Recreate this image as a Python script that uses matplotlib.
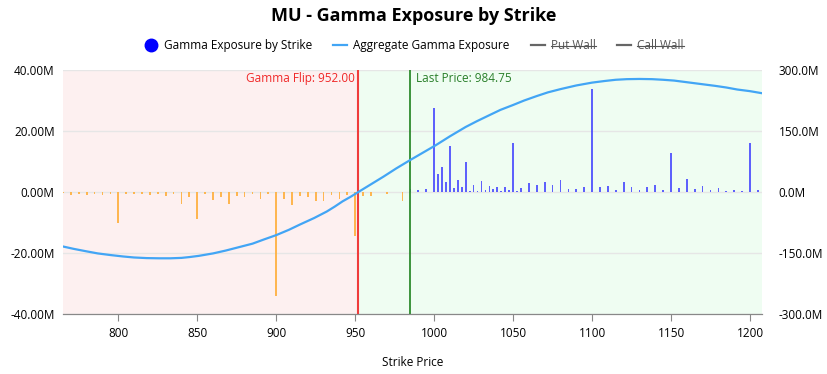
import matplotlib
matplotlib.use("Agg")
import matplotlib.pyplot as plt
from matplotlib.lines import Line2D

plt.rcParams['font.family'] = ['Open Sans', 'DejaVu Sans']

# gamma exposure per strike, in millions
neg_strikes = [765, 770, 775, 780, 785, 790, 795, 800, 805, 810, 815, 820, 825, 830,
               835, 840, 845, 850, 855, 860, 865, 870, 875, 880, 885, 890, 895, 900,
               905, 910, 915, 920, 925, 930, 935, 940, 945, 950, 955, 960, 970, 980]
neg_gex = [-0.4, -0.9, -0.6, -1.0, -0.6, -1.0, -0.8, -10.0, -0.5, -0.8, -0.5, -1.0, -0.8, -1.3,
           -0.5, -3.9, -1.5, -9.0, -0.8, -2.5, -1.5, -3.9, -1.3, -1.7, -0.7, -2.2, -0.8, -34.0,
           -2.2, -4.2, -1.4, -1.5, -2.8, -2.8, -1.0, -2.2, -1.0, -14.3, -1.3, -1.3, -0.7, -3.0]

pos_strikes = [985, 990, 995, 1000, 1002.5, 1005, 1007.5, 1010, 1012.5, 1015, 1017.5, 1020,
               1022.5, 1025, 1027.5, 1030, 1032.5, 1035, 1037.5, 1040, 1042.5, 1045, 1047.5,
               1050, 1052.5, 1055, 1060, 1065, 1070, 1075, 1080, 1085, 1090, 1095, 1100, 1105,
               1110, 1115, 1120, 1125, 1130, 1135, 1140, 1145, 1150, 1155, 1160, 1165, 1170,
               1175, 1180, 1185, 1190, 1195, 1200, 1205]
pos_gex = [1.1, 0.7, 1.0, 27.4, 5.9, 8.1, 3.3, 15.1, 1.4, 4.1, 1.6, 9.8,
           0.4, 2.2, 0.4, 3.6, 0.7, 2.0, 0.9, 1.7, 0.4, 1.5, 0.7,
           16.2, 0.3, 1.4, 2.8, 2.3, 3.3, 2.3, 3.9, 1.1, 1.1, 1.6, 33.7, 1.6,
           2.0, 0.7, 3.3, 1.6, 0.7, 1.6, 2.3, 0.7, 12.8, 1.2, 4.4, 0.9, 2.0,
           0.7, 1.2, 0.3, 0.7, 0.3, 16.2, 0.7]

# aggregate gamma exposure curve, in millions (right axis)
agg_strikes = [765, 772, 780, 787, 795, 803, 810, 818, 826, 833, 840, 845, 851, 860, 868,
               876, 885, 892, 900, 908, 915, 924, 932, 937, 942, 947, 952, 960, 968, 976,
               985, 993, 1001, 1010, 1020, 1027, 1035, 1042, 1050, 1057, 1065, 1072, 1080,
               1090, 1100, 1108, 1115, 1122, 1130, 1138, 1145, 1152, 1158, 1164, 1170,
               1178, 1185, 1192, 1200, 1207.5]
agg_gex = [-134, -140, -146, -151, -155, -158.5, -161, -162.5, -163, -163, -162, -160, -157,
           -151, -144, -136, -127, -117, -106, -93, -80, -64, -48, -36, -23, -12, 0, 19, 38,
           58, 79, 97, 115, 137, 160, 174, 189, 202, 214, 225, 236, 245, 253,
           262, 269, 273, 276, 277.5, 278, 277.5, 276, 274, 271, 268, 265,
           261, 257, 252, 248, 243]

gamma_flip = 952.00
last_price = 984.75
x_min, x_max = 765, 1207.5

fig = plt.figure(figsize=(8.27, 3.74), dpi=100)
ax = fig.add_axes([0.0762, 0.1604, 0.845, 0.6524])
ax2 = ax.twinx()

ax.axvspan(x_min, gamma_flip, color='#fdf0f0', zorder=0, lw=0)
ax.axvspan(gamma_flip, x_max, color='#effdf2', zorder=0, lw=0)

ax.bar(neg_strikes, neg_gex, width=1.1, color='#ffb040', alpha=0.9, zorder=3)
ax.bar(pos_strikes, pos_gex, width=1.1, color='#3a3aff', alpha=0.8, zorder=3)

ax.axvline(gamma_flip, color='#f03c3c', lw=1.5, zorder=4)
ax.axvline(last_price, color='#2e8b2e', lw=1.3, zorder=4)
ax.text(gamma_flip - 2, 39.5, 'Gamma Flip: %.2f' % gamma_flip, color='#f02828',
        ha='right', va='top', fontsize=8.5, zorder=5)
ax.text(last_price + 4, 39.5, 'Last Price: %.2f' % last_price, color='#2a7f2a',
        ha='left', va='top', fontsize=8.5, zorder=5)

ax2.plot(agg_strikes, agg_gex, color='#42a5f5', lw=1.6, zorder=5)

ax.set_xlim(x_min, x_max)
ax.set_ylim(-40, 40)
ax2.set_ylim(-300, 300)
ax.set_yticks([-40, -20, 0, 20, 40])
ax.set_yticklabels(['%.2fM' % v for v in [-40, -20, 0, 20, 40]])
ax2.set_yticks([-300, -150, 0, 150, 300])
ax2.set_yticklabels(['%.1fM' % v for v in [-300, -150, 0, 150, 300]])
ax.set_xticks([800, 850, 900, 950, 1000, 1050, 1100, 1150, 1200])
ax.grid(axis='y', color='#e6e6e6', lw=1, zorder=1)
ax.set_axisbelow(True)

for a in (ax, ax2):
    for s in ('top', 'left', 'right'):
        a.spines[s].set_visible(False)
    a.spines['bottom'].set_color('#888888')
ax.tick_params(axis='x', length=5, color='#888888', labelsize=8.5, pad=4)
ax.tick_params(axis='y', length=0, labelsize=8.5, pad=6)
ax2.tick_params(axis='y', length=0, labelsize=8.5, pad=12)
ax.set_xlabel('Strike Price', fontsize=8.5, labelpad=12)

fig.suptitle('MU - Gamma Exposure by Strike', fontsize=13, fontweight='bold', y=0.98)

handles = [
    Line2D([], [], marker='o', color='none', markerfacecolor='#0000ff',
           markeredgecolor='#0000ff', markersize=9),
    Line2D([], [], color='#42a5f5', lw=1.6),
    Line2D([], [], color='#666666', lw=1.6),
    Line2D([], [], color='#666666', lw=1.6),
]
labels = ['Gamma Exposure by Strike', 'Aggregate Gamma Exposure', 'Put Wall', 'Call Wall']
leg = fig.legend(handles, labels, loc='center', bbox_to_anchor=(0.5, 0.878), ncol=4,
                 frameon=False, fontsize=8.5, handlelength=1.2, handletextpad=0.5,
                 columnspacing=1.8)
for t in leg.get_texts()[2:]:
    t.set_color('#555555')

# strike through the hidden legend entries
fig.canvas.draw()
inv = fig.transFigure.inverted()
for t in leg.get_texts()[2:]:
    bb = t.get_window_extent()
    (x0, y0), (x1, y1) = inv.transform([(bb.x0, bb.y0), (bb.x1, bb.y1)])
    ym = y0 + (y1 - y0) * 0.45
    fig.add_artist(Line2D([x0, x1], [ym, ym], color='#555555', lw=0.8,
                          transform=fig.transFigure))

fig.savefig('out.png', dpi=100)
